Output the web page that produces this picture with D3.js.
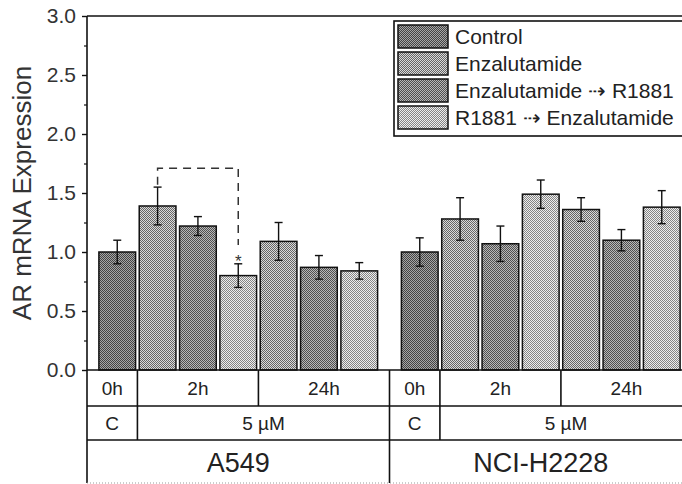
<!DOCTYPE html>
<html>
<head>
<meta charset="utf-8">
<script src="https://cdn.jsdelivr.net/npm/d3@7"></script>
<style>
  body { margin: 0; background: #fff; }
  svg { display: block; font-family: "Liberation Sans", Arial, sans-serif; }
</style>
</head>
<body>
<div id="chart"></div>
<script>
// data
var cellLines = ["A549", "NCI-H2228"];
var treatments = ["Control", "Enzalutamide", "Enzalutamide \u21e2 R1881", "R1881 \u21e2 Enzalutamide"];
// treatment of each bar inside one cell line block
var barTreatment = [0, 1, 2, 3, 1, 2, 3];
var a549Mean = [1.00, 1.39, 1.22, 0.80, 1.09, 0.87, 0.84];
var a549Err  = [0.10, 0.16, 0.08, 0.10, 0.16, 0.10, 0.07];
var nciMean  = [1.00, 1.28, 1.07, 1.49, 1.36, 1.10, 1.38];
var nciErr   = [0.12, 0.18, 0.15, 0.12, 0.10, 0.09, 0.14];
var timeLabels = ["0h", "2h", "24h"];
var timeSpan = [[0, 0], [1, 3], [4, 6]];
var doseLabels = ["C", "5 \u00b5M"];
var doseSpan = [[0, 0], [1, 6]];
var yTicks = [0, 0.5, 1.0, 1.5, 2.0, 2.5, 3.0];

var W = 682, H = 484;
var svg = d3.select("#chart").append("svg")
  .attr("width", W).attr("height", H);

// halftone-like fills
var fills = [["#444444", "#a6a6a6"], ["#666666", "#dadada"], ["#505050", "#b8b8b8"], ["#858585", "#eeeeee"]];
var defs = svg.append("defs");
fills.forEach(function(f, i) {
  var p = defs.append("pattern").attr("id", "pat" + i)
    .attr("width", 2).attr("height", 2).attr("patternUnits", "userSpaceOnUse");
  p.append("rect").attr("width", 2).attr("height", 2).attr("fill", f[1]);
  p.append("rect").attr("width", 1).attr("height", 1).attr("fill", f[0]);
  p.append("rect").attr("x", 1).attr("y", 1).attr("width", 1).attr("height", 1).attr("fill", f[0]);
});

var x = d3.scaleLinear().domain([-0.75, 14.25]).range([87, 692]);
var y = d3.scaleLinear().domain([0, 3]).range([370, 16]);
var blockStart = 7.5;

var bars = [];
cellLines.forEach(function(c, gi) {
  var m = gi === 0 ? a549Mean : nciMean;
  var e = gi === 0 ? a549Err : nciErr;
  m.forEach(function(v, i) {
    bars.push({slot: gi * blockStart + i, mean: v, err: e[i], t: barTreatment[i]});
  });
});

var bw = 0.91;
svg.append("g").selectAll("rect").data(bars).enter().append("rect")
  .attr("x", function(d) { return x(d.slot - bw / 2); })
  .attr("width", function(d) { return x(d.slot + bw / 2) - x(d.slot - bw / 2); })
  .attr("y", function(d) { return y(d.mean); })
  .attr("height", function(d) { return y(0) - y(d.mean); })
  .attr("fill", function(d) { return "url(#pat" + d.t + ")"; })
  .attr("stroke", "#111").attr("stroke-width", 1.5);

// error bars
var eb = svg.append("g").attr("stroke", "#111").attr("stroke-width", 1.4);
bars.forEach(function(d) {
  var cx = x(d.slot);
  eb.append("line").attr("x1", cx).attr("x2", cx)
    .attr("y1", y(d.mean - d.err)).attr("y2", y(d.mean + d.err));
  [d.mean - d.err, d.mean + d.err].forEach(function(v) {
    eb.append("line").attr("x1", cx - 4).attr("x2", cx + 4)
      .attr("y1", y(v)).attr("y2", y(v));
  });
});

// significance bracket
var brk = d3.path();
brk.moveTo(x(1), y(1.57));
brk.lineTo(x(1), y(1.71));
brk.lineTo(x(3), y(1.71));
brk.lineTo(x(3), y(1.06));
svg.append("path").attr("d", brk.toString())
  .attr("fill", "none").attr("stroke", "#333").attr("stroke-width", 1.5)
  .attr("stroke-dasharray", "8,6");
svg.append("text").attr("x", x(3)).attr("y", y(0.87))
  .attr("text-anchor", "middle").style("font-size", "17px").attr("fill", "#333").text("*");

// y axis
var yAxis = svg.append("g").attr("transform", "translate(87,0)")
  .call(d3.axisLeft(y).tickValues(yTicks).tickSize(5).tickPadding(6).tickFormat(d3.format(".1f")));
yAxis.select(".domain").remove();
yAxis.selectAll("text").style("font-size", "21px").attr("fill", "#333").attr("font-family", "Liberation Sans, Arial");
yAxis.selectAll("line").attr("stroke", "#111").attr("stroke-width", 1.4);
svg.append("g").attr("transform", "translate(87,0)")
  .call(d3.axisLeft(y).tickValues([0.25, 0.75, 1.25, 1.75, 2.25, 2.75]).tickSize(3).tickFormat(""))
  .call(function(g) { g.select(".domain").remove(); g.selectAll("line").attr("stroke", "#111").attr("stroke-width", 1.2); });

svg.append("text")
  .attr("transform", "translate(31," + y(1.5) + ") rotate(-90)")
  .attr("text-anchor", "middle").style("font-size", "26px").attr("fill", "#333")
  .text("AR mRNA Expression");

// frame lines
var ln = svg.append("g").attr("stroke", "#111").attr("stroke-width", 1.6);
ln.append("line").attr("x1", 87).attr("x2", 692).attr("y1", y(3)).attr("y2", y(3));
ln.append("line").attr("x1", 87).attr("x2", 87).attr("y1", y(3)).attr("y2", 483);
ln.append("line").attr("x1", 87).attr("x2", 692).attr("y1", y(0)).attr("y2", y(0));

// table under the axis
var rowY = [370, 406, 440, 483];
ln.append("line").attr("x1", 87).attr("x2", 692).attr("y1", rowY[1]).attr("y2", rowY[1]);
ln.append("line").attr("x1", 87).attr("x2", 692).attr("y1", rowY[2]).attr("y2", rowY[2]);
svg.append("line").attr("x1", 87).attr("x2", 692).attr("y1", rowY[3]).attr("y2", rowY[3])
  .attr("stroke", "#999").attr("stroke-width", 1).attr("stroke-dasharray", "1,2");

var tb = svg.append("g").attr("fill", "#222").attr("text-anchor", "middle");
cellLines.forEach(function(c, gi) {
  var o = gi * blockStart;
  var left = x(o - 0.75), right = x(o + 6.75);
  if (gi > 0) ln.append("line").attr("x1", left).attr("x2", left).attr("y1", rowY[0]).attr("y2", rowY[3]);
  timeLabels.forEach(function(t, k) {
    var a = k === 0 ? left : x(o + timeSpan[k][0] - 0.5);
    var b = k === timeLabels.length - 1 ? right : x(o + timeSpan[k][1] + 0.5);
    if (k > 0) ln.append("line").attr("x1", a).attr("x2", a).attr("y1", rowY[0]).attr("y2", rowY[1]);
    tb.append("text").attr("x", (a + b) / 2).attr("y", (rowY[0] + rowY[1]) / 2 + 7)
      .style("font-size", "19px").text(t);
  });
  doseLabels.forEach(function(t, k) {
    var a = k === 0 ? left : x(o + doseSpan[k][0] - 0.5);
    var b = k === doseLabels.length - 1 ? right : x(o + doseSpan[k][1] + 0.5);
    if (k > 0) ln.append("line").attr("x1", a).attr("x2", a).attr("y1", rowY[1]).attr("y2", rowY[2]);
    tb.append("text").attr("x", (a + b) / 2).attr("y", (rowY[1] + rowY[2]) / 2 + 7)
      .style("font-size", "19px").text(t);
  });
  tb.append("text").attr("x", (left + right) / 2).attr("y", (rowY[2] + rowY[3]) / 2 + 10)
    .style("font-size", "27px").text(c);
});

// legend
var lg = svg.append("g").attr("transform", "translate(394,21)");
lg.append("rect").attr("width", 320).attr("height", 115)
  .attr("fill", "#fff").attr("stroke", "#111").attr("stroke-width", 1.6);
treatments.forEach(function(t, i) {
  lg.append("rect").attr("x", 4).attr("y", 4 + i * 27).attr("width", 50).attr("height", 23)
    .attr("fill", "url(#pat" + i + ")").attr("stroke", "#111").attr("stroke-width", 1.5);
  lg.append("text").attr("x", 61).attr("y", 4 + i * 27 + 19)
    .style("font-size", "21px").attr("fill", "#222").text(t);
});
</script>
</body>
</html>
